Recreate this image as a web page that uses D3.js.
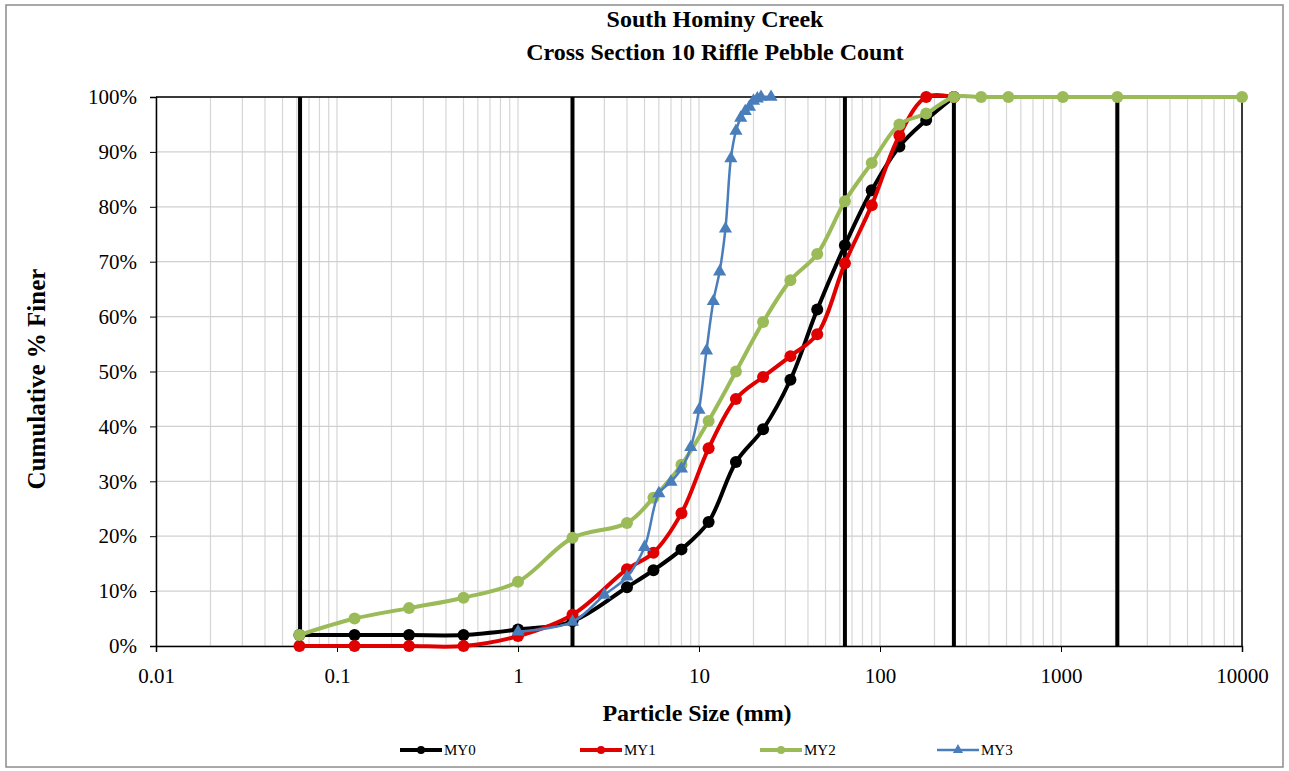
<!DOCTYPE html>
<html><head><meta charset="utf-8">
<script src="https://cdn.jsdelivr.net/npm/d3@7"></script>
<style>
body{margin:0;background:#fff;}
svg{display:block;font-family:"Liberation Serif","Times New Roman",serif;}
</style></head>
<body><svg id="chart" width="1289" height="771"></svg>
<script>
// ---- data ----
const titleLines = ["South Hominy Creek", "Cross Section 10 Riffle Pebble Count"];
const xTicks = [0.01, 0.1, 1, 10, 100, 1000, 10000];
const xTickLabels = ["0.01", "0.1", "1", "10", "100", "1000", "10000"];
const yTicks = [0,10,20,30,40,50,60,70,80,90,100];
const classBreaks = [0.0625, 2, 64, 256, 2048];

const my0Sizes = [0.062,0.125,0.25,0.5,1,2,4,5.6,8,11.3,16,22.6,32,45,64,90,128,180,256];
const my0Values = [2,2,2,2,3,4.5,10.7,13.8,17.6,22.6,33.5,39.5,48.5,61.3,73,83,91,95.8,100];

const my1Sizes = [0.062,0.125,0.25,0.5,1,2,4,5.6,8,11.3,16,22.6,32,45,64,90,128,180,256];
const my1Values = [0,0,0,0,1.8,5.7,14,17,24.2,36,45,49,52.8,56.8,69.7,80.3,93,100,100];

const my2Sizes = [0.062,0.125,0.25,0.5,1,2,4,5.6,8,11.3,16,22.6,32,45,64,90,128,180,256,362,512,1024,2048,10000];
const my2Values = [2,5,6.9,8.8,11.7,19.7,22.4,27,33,41,50,59,66.6,71.4,81,88,95,97,100,100,100,100,100,100];

const my3Sizes = [1,2,3,4,5,6,7,8,9,10,11,12,13,14,15,16,17,18,19,20,21,22,25];
const my3Values = [2.6,4.4,9.3,12.6,18,27.8,29.9,32.3,36.2,43,53.8,62.8,68.2,76,88.8,93.8,96.2,97.4,98.2,99.3,99.7,100,100];

const seriesNames = ["MY0","MY1","MY2","MY3"];
const seriesColors = ["#000000","#e00000","#9bbb59","#4a7ebb"];

// ---- layout ----
const svg = d3.select("#chart");
const L = 156, R = 1242, T = 97, B = 646;
const x = d3.scaleLog().domain([0.01, 10000]).range([L, R]);
const y = d3.scaleLinear().domain([0, 100]).range([B, T]);

svg.append("rect").attr("x",6).attr("y",5).attr("width",1277).attr("height",762)
  .attr("fill","#fff").attr("stroke","#8c8c8c").attr("stroke-width",1.5);

// titles
svg.selectAll("text.title").data(titleLines).join("text")
  .attr("x", 715).attr("y",(d,i)=>27+i*33).attr("text-anchor","middle")
  .attr("font-size",24).attr("font-weight","bold").text(d=>d);

// minor vertical grid
const minor = [];
for (let e=-2;e<4;e++) for (let k=1;k<10;k++) minor.push(k*Math.pow(10,e));
minor.push(10000);
svg.append("g").selectAll("line").data(minor).join("line")
  .attr("x1",d=>x(d)).attr("x2",d=>x(d)).attr("y1",T).attr("y2",B)
  .attr("stroke","#d6d6d6").attr("stroke-width",1.2);
// horizontal grid
svg.append("g").selectAll("line").data(yTicks).join("line")
  .attr("x1",L).attr("x2",R).attr("y1",d=>y(d)).attr("y2",d=>y(d))
  .attr("stroke","#d0d0d0").attr("stroke-width",1.2);

// border top/right
svg.append("line").attr("x1",L).attr("x2",R).attr("y1",T).attr("y2",T).attr("stroke","#000").attr("stroke-width",1.5);
svg.append("line").attr("x1",R).attr("x2",R).attr("y1",T).attr("y2",B).attr("stroke","#000").attr("stroke-width",1.5);

// class break lines
svg.append("g").selectAll("line").data(classBreaks).join("line")
  .attr("x1",d=>x(d)).attr("x2",d=>x(d)).attr("y1",T).attr("y2",B)
  .attr("stroke","#000").attr("stroke-width",4);

// axes
const yAxis = d3.axisLeft(y).tickValues(yTicks).tickFormat(d=>d+"%").tickSize(6).tickPadding(13);
const gy = svg.append("g").attr("transform",`translate(${L},0)`).call(yAxis);
gy.select(".domain").attr("stroke","#000").attr("stroke-width",1.5);
gy.selectAll("text").attr("font-size",21).attr("font-family","Liberation Serif").attr("fill","#000");

const xAxis = d3.axisBottom(x).tickValues(xTicks).tickFormat((d,i)=>xTickLabels[i]).tickSize(6).tickPadding(16);
const gx = svg.append("g").attr("transform",`translate(0,${B})`).call(xAxis);
gx.select(".domain").attr("stroke","#000").attr("stroke-width",1.5);
gx.selectAll("text").attr("font-size",21).attr("font-family","Liberation Serif").attr("fill","#000");

svg.append("text").attr("x",697).attr("y",721).attr("text-anchor","middle")
  .attr("font-size",24).attr("font-weight","bold").text("Particle Size (mm)");
svg.append("text").attr("transform","translate(45,379) rotate(-90)").attr("text-anchor","middle")
  .attr("font-size",25).attr("font-weight","bold").text("Cumulative % Finer");

// series
const series = [
  {sizes: my0Sizes, values: my0Values},
  {sizes: my1Sizes, values: my1Values},
  {sizes: my2Sizes, values: my2Values},
  {sizes: my3Sizes, values: my3Values}
];
const line = d3.line().x(d=>x(d[0])).y(d=>y(d[1])).curve(d3.curveCatmullRom.alpha(0.5));
const tri = d3.symbol().type(d3.symbolTriangle).size(75);
const widths = [4,4,4,2.5];
const plotG = svg.append("g");
series.forEach((s,i)=>{
  const pts = s.sizes.map((d,j)=>[d, s.values[j]]);
  plotG.append("path").datum(pts).attr("d",line).attr("fill","none")
    .attr("stroke",seriesColors[i]).attr("stroke-width",widths[i]).attr("stroke-linejoin","round");
  if (i<3) {
    plotG.append("g").selectAll("circle").data(pts).join("circle")
      .attr("cx",d=>x(d[0])).attr("cy",d=>y(d[1])).attr("r",6).attr("fill",seriesColors[i]);
  } else {
    plotG.append("g").selectAll("path").data(pts).join("path")
      .attr("transform",d=>`translate(${x(d[0])},${y(d[1])})`).attr("d",tri).attr("fill",seriesColors[i]);
  }
});

// legend
const legX = [400, 580, 760, 937];
seriesNames.forEach((n,i)=>{
  const g = svg.append("g").attr("transform",`translate(${legX[i]},750)`);
  g.append("line").attr("x1",0).attr("x2",42).attr("y1",0).attr("y2",0)
    .attr("stroke",seriesColors[i]).attr("stroke-width",i<3?4:2.5);
  if (i<3) g.append("circle").attr("cx",21).attr("cy",0).attr("r",4).attr("fill",seriesColors[i]);
  else g.append("path").attr("transform","translate(21,0)").attr("d",d3.symbol().type(d3.symbolTriangle).size(45)).attr("fill",seriesColors[i]);
  g.append("text").attr("x",44).attr("y",5).attr("font-size",15).text(n);
});
</script></body></html>
